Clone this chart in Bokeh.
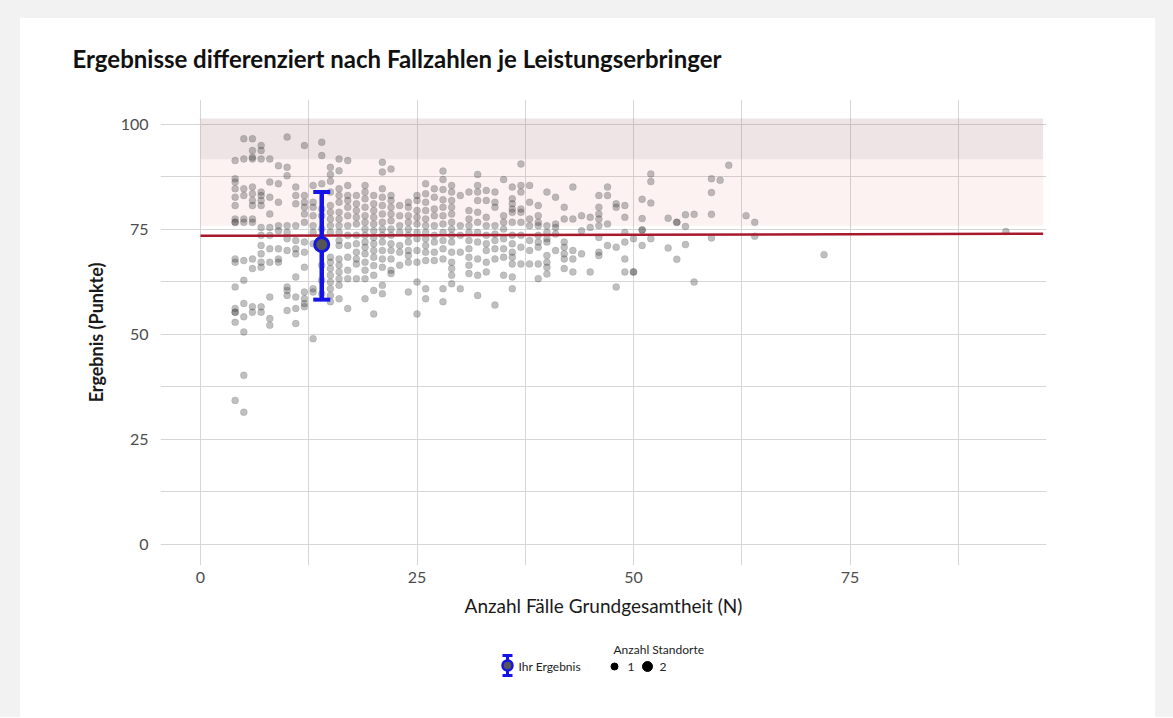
from bokeh.plotting import figure
from bokeh.models import Range1d, FixedTicker
from bokeh.layouts import column
from bokeh.core.properties import value
from bokeh.embed import file_html
from bokeh.resources import INLINE

# ---------------- data ----------------
title_text = "Ergebnisse differenziert nach Fallzahlen je Leistungserbringer"
x_label = "Anzahl Fälle Grundgesamtheit (N)"
y_label = "Ergebnis (Punkte)"
x_ticks = [0, 25, 50, 75]
x_minor = [12.5, 37.5, 62.5, 87.5]
y_ticks = [0, 25, 50, 75, 100]
y_minor = [12.5, 37.5, 62.5, 87.5]

y_n04 = [91.4, 87.1, 86.3, 84.7, 82.7, 80.7, 77.5, 76.7, 76.7, 68.0, 67.2, 61.3, 56.2, 55.3, 55.3, 52.9, 34.3]
y_n05 = [96.6, 91.8, 84.7, 83.1, 77.5, 76.7, 67.6, 62.9, 57.4, 54.2, 50.6, 40.3, 31.5]
y_n06 = [96.6, 93.8, 92.2, 91.8, 85.1, 83.5, 81.9, 80.7, 77.5, 76.7, 68.0, 65.7, 56.6, 55.3]
y_n07 = [95.0, 93.8, 91.8, 83.9, 83.1, 81.9, 80.7, 75.5, 73.6, 71.2, 69.2, 67.2, 66.0, 56.6, 55.3]
y_n08 = [91.8, 86.3, 82.7, 78.7, 75.5, 73.6, 70.4, 67.2, 58.9, 53.8, 52.2]
y_n09 = [90.2, 85.9, 81.5, 75.9, 74.7, 70.4, 68.0, 67.2]
y_n10 = [97.0, 89.8, 87.8, 75.9, 74.3, 72.8, 70.0, 61.3, 60.5, 59.3, 55.7]
y_n11 = [85.1, 83.1, 81.1, 75.9, 72.4, 70.4, 69.2, 63.7, 58.9, 56.2, 52.6]
y_n12 = [95.0, 83.1, 81.5, 80.3, 78.7, 76.7, 72.0, 69.6, 66.0, 60.1, 58.5, 57.4, 56.6]
y_n13 = [85.5, 81.5, 80.3, 78.3, 75.9, 74.3, 71.6, 60.9, 60.1, 49.0]
y_n14 = [95.8, 92.6, 85.9, 79.9, 78.3, 75.2, 73.1, 70.4, 66.5, 62.9, 59.7]
y_n15 = [89.8, 88.1, 86.5, 83.9, 80.7, 79.1, 77.5, 75.9, 74.3, 68.4, 67.2, 65.7, 64.1, 62.5, 60.9, 59.3, 57.8]
y_n16 = [91.8, 89.0, 84.7, 83.1, 81.5, 79.1, 77.5, 75.9, 74.3, 72.4, 71.2, 68.0, 66.5, 64.9, 63.3, 61.7, 58.5]
y_n17 = [91.4, 85.5, 83.1, 81.9, 80.3, 78.3, 75.9, 73.6, 71.2, 68.4, 65.3, 63.3, 56.2]
y_n18 = [83.1, 81.1, 79.5, 77.9, 76.3, 73.6, 71.6, 69.6, 68.0, 66.8, 63.3]
y_n19 = [85.5, 83.9, 82.3, 80.3, 78.3, 76.7, 75.1, 73.6, 72.0, 70.8, 69.2, 67.2, 65.3, 63.3, 58.5]
y_n20 = [83.1, 81.1, 79.5, 77.9, 76.3, 74.7, 73.1, 71.6, 70.0, 68.4, 66.4, 64.1, 60.5, 54.9]
y_n21 = [91.0, 88.7, 84.7, 82.7, 80.7, 78.7, 76.7, 75.1, 73.6, 72.0, 70.0, 68.0, 66.0, 61.7, 59.7]
y_n22 = [89.4, 83.1, 81.9, 80.3, 78.7, 77.1, 75.1, 73.6, 71.6, 70.0, 68.0, 65.3, 64.5]
y_n23 = [80.7, 78.3, 75.9, 74.3, 71.2, 69.6, 66.5]
y_n24 = [81.5, 80.3, 78.3, 76.7, 75.1, 73.6, 72.0, 70.0, 68.8, 67.2, 60.1]
y_n25 = [83.1, 81.9, 79.5, 77.9, 76.3, 74.3, 72.8, 70.0, 67.2, 62.5, 54.9]
y_n26 = [85.9, 83.5, 81.5, 79.5, 77.5, 75.9, 74.3, 72.8, 71.2, 69.6, 67.6, 60.9, 58.5]
y_n27 = [84.7, 82.7, 79.9, 78.3, 75.9, 73.6, 72.0, 69.6, 67.6]
y_n28 = [88.9, 86.9, 84.5, 82.1, 80.3, 78.3, 76.3, 74.3, 72.4, 70.4, 68.0, 60.9, 57.8]
y_n29 = [85.5, 83.9, 81.9, 80.3, 78.7, 76.7, 75.1, 73.6, 72.0, 69.6, 67.2, 65.7, 64.1, 62.1]
y_n30 = [83.1, 75.9, 73.6, 69.6, 60.9]
y_n31 = [83.9, 79.5, 77.5, 75.9, 74.3, 72.4, 70.4, 68.4, 66.5, 64.5]
y_n32 = [88.1, 85.5, 83.9, 81.9, 79.1, 76.7, 74.3, 72.0, 68.0, 64.1, 59.3]
y_n33 = [84.3, 81.9, 77.9, 75.9, 73.6, 71.6, 70.0, 67.2, 64.9]
y_n34 = [83.9, 81.5, 80.3, 75.9, 73.9, 72.4, 70.4, 68.0, 57.0]
y_n35 = [86.9, 78.3, 76.7, 75.1, 72.8, 70.4, 68.4, 64.1]
y_n36 = [85.1, 82.3, 81.1, 79.9, 79.1, 76.7, 73.6, 71.6, 69.6, 68.4, 66.8, 63.7, 60.9]
y_n37 = [90.6, 85.5, 83.9, 79.9, 79.1, 76.7, 73.6, 70.8, 66.8]
y_n38 = [85.5, 81.5, 77.5, 75.9, 72.4, 70.0, 66.8]
y_n39 = [80.7, 78.3, 76.7, 75.9, 73.6, 72.0, 70.8, 66.8, 63.3]
y_n40 = [83.9, 75.9, 74.3, 72.8, 72.0, 68.8, 67.2, 66.0, 64.4]
y_n41 = [82.7, 76.3, 75.5, 73.9, 70.0]
y_n42 = [80.3, 77.5, 72.0, 70.8, 69.2, 68.0, 65.7]
y_n43 = [85.1, 77.5, 70.0, 68.0, 64.9]
y_n44 = [78.3, 74.7, 69.2]
y_n45 = [77.9, 75.5, 64.9]
y_n46 = [83.1, 80.3, 78.7, 77.5, 75.9, 73.1, 69.6, 68.8]
y_n47 = [85.1, 83.1, 76.3, 71.2]
y_n48 = [81.1, 80.3, 70.8, 61.3]
y_n49 = [80.7, 77.9, 74.3, 72.0, 68.0, 64.9]
y_n50 = [72.8, 64.9, 64.9]
y_n51 = [82.2, 77.6, 74.9, 74.9, 71.2]
y_n52 = [88.2, 86.4, 81.3, 72.8]
y_n54 = [77.7, 70.6]
y_n55 = [76.7, 76.7, 67.9]
y_n56 = [78.5, 75.7, 71.4]
y_n57 = [78.6, 62.5]
y_n59 = [87.1, 83.8, 78.6, 73.0]
y_n60 = [86.7]
y_n61 = [90.3]
y_n63 = [78.3]
y_n64 = [76.7, 73.4]
y_n72 = [69.0]
y_n93 = [74.5]

columns = {
    4: y_n04, 5: y_n05, 6: y_n06, 7: y_n07, 8: y_n08, 9: y_n09, 10: y_n10,
    11: y_n11, 12: y_n12, 13: y_n13, 14: y_n14, 15: y_n15, 16: y_n16,
    17: y_n17, 18: y_n18, 19: y_n19, 20: y_n20, 21: y_n21, 22: y_n22,
    23: y_n23, 24: y_n24, 25: y_n25, 26: y_n26, 27: y_n27, 28: y_n28,
    29: y_n29, 30: y_n30, 31: y_n31, 32: y_n32, 33: y_n33, 34: y_n34,
    35: y_n35, 36: y_n36, 37: y_n37, 38: y_n38, 39: y_n39, 40: y_n40,
    41: y_n41, 42: y_n42, 43: y_n43, 44: y_n44, 45: y_n45, 46: y_n46,
    47: y_n47, 48: y_n48, 49: y_n49, 50: y_n50, 51: y_n51, 52: y_n52,
    54: y_n54, 55: y_n55, 56: y_n56, 57: y_n57, 59: y_n59, 60: y_n60,
    61: y_n61, 63: y_n63, 64: y_n64, 72: y_n72, 93: y_n93,
}

# reference bands and line
band_left = [0, 0]
band_right = [97.3, 97.3]
band_bottom = [75.9, 91.7]
band_top = [91.7, 101.4]
band_colors = ["#d45a5a", "#9e6b70"]
band_alphas = [0.08, 0.18]

ref_x = [0, 97.3]
ref_y = [73.5, 74.0]

# "Ihr Ergebnis"
ihr_n = [14]
ihr_value = [71.4]
ihr_lower = [58.3]
ihr_upper = [83.9]

legend_ihr = "Ihr Ergebnis"
legend_title = "Anzahl Standorte"
standorte_labels = ["1", "2"]

# ---------------- figure ----------------
FONT = "Lato"
BORDER_L, BORDER_R = 140, 109
pts_x = [n for n, ys in columns.items() for _ in ys]
pts_y = [v for ys in columns.values() for v in ys]

p = figure(width=1135, height=612,
           x_range=Range1d(-4.62, 97.69), y_range=Range1d(-5.0, 105.95),
           output_backend="svg", toolbar_location=None,
           min_border_left=BORDER_L, min_border_right=BORDER_R,
           min_border_top=81, min_border_bottom=65)
p.background_fill_color = "white"
p.border_fill_color = "white"
p.outline_line_color = None

p.quad(left=band_left, right=band_right, bottom=band_bottom, top=band_top,
       fill_color=band_colors, fill_alpha=band_alphas, line_color=None)

p.scatter(pts_x, pts_y, size=7, fill_color="#3c3c3c", fill_alpha=0.33,
          line_color="#3c3c3c", line_alpha=0.12)

p.line(ref_x, ref_y, line_color="#a8192e", line_width=2.5)

BLUE = "#1414e6"
p.segment(x0=ihr_n, y0=ihr_lower, x1=ihr_n, y1=ihr_upper, line_color=BLUE, line_width=4.5)
p.scatter(x=ihr_n * 2, y=ihr_lower + ihr_upper, marker="dash", size=17,
          line_color=BLUE, line_width=4)
p.scatter(x=ihr_n, y=ihr_value, size=14, fill_color="#555555",
          line_color=BLUE, line_width=3)

p.xaxis.ticker = FixedTicker(ticks=x_ticks, minor_ticks=x_minor)
p.yaxis.ticker = FixedTicker(ticks=y_ticks, minor_ticks=y_minor)
p.grid.grid_line_color = "#d6d6d6"
p.grid.minor_grid_line_color = "#d6d6d6"
p.grid.grid_line_width = 1

for ax in (p.xaxis, p.yaxis):
    ax.axis_line_color = None
    ax.major_tick_line_color = None
    ax.minor_tick_line_color = None
    ax.major_tick_out = 0
    ax.major_tick_in = 0
    ax.minor_tick_out = 0
    ax.minor_tick_in = 0
    ax.major_label_text_font = FONT
    ax.major_label_text_font_size = "16px"
    ax.major_label_text_color = "#4d4d4d"
    ax.axis_label_text_font = FONT
    ax.axis_label_text_color = "#1a1a1a"

p.xaxis.axis_label = x_label
p.xaxis.axis_label_text_font_size = "19px"
p.xaxis.axis_label_text_font_style = "normal"
p.xaxis.major_label_standoff = 6
p.xaxis.axis_label_standoff = 8

p.yaxis.axis_label = y_label
p.yaxis.axis_label_text_font_size = "18px"
p.yaxis.axis_label_text_font_style = "bold"
p.yaxis.major_label_standoff = 12
p.yaxis.axis_label_standoff = 11

p.title.text = title_text
p.title.text_font = FONT
p.title.text_font_size = "24px"
p.title.text_font_style = "bold"
p.title.text_color = "#111111"
p.title.align = "left"
p.title.vertical_align = "top"
p.title.offset = -88
p.title.standoff = 49

# ---------------- legend strip (x in pixels from the plot frame's left edge) ----------------
FRAME_W = 1135 - BORDER_L - BORDER_R
LEG_H = 87
leg = figure(width=1135, height=LEG_H, x_range=Range1d(0, FRAME_W), y_range=Range1d(0, LEG_H),
             output_backend="svg", toolbar_location=None,
             min_border_left=BORDER_L, min_border_right=BORDER_R,
             min_border_top=0, min_border_bottom=0,
             x_axis_location=None, y_axis_location=None)
leg.grid.visible = False
leg.outline_line_color = None
leg.background_fill_color = "white"
leg.border_fill_color = "white"

leg.segment(x0=[347], y0=[42], x1=[347], y1=[62], line_color=BLUE, line_width=3)
leg.scatter(x=[347, 347], y=[42, 62], marker="dash", size=10, line_color=BLUE, line_width=3)
leg.scatter(x=[347], y=[52], size=10, fill_color="#555555", line_color=BLUE, line_width=2.5)
leg.text(x=[358], y=[51], text=[legend_ihr], text_font=value(FONT),
         text_font_size="12px", text_baseline="middle", text_align="left", text_color="#222222")
leg.text(x=[453], y=[68], text=[legend_title], text_font=value(FONT),
         text_font_size="12px", text_baseline="middle", text_align="left", text_color="#222222")
leg.scatter(x=[454, 487], y=[51, 51], size=[7, 10], fill_color="black", line_color="black")
leg.text(x=[467, 499], y=[51, 51], text=standorte_labels, text_font=value(FONT),
         text_font_size="12px", text_baseline="middle", text_align="left", text_color="#222222")

layout = column(p, leg, spacing=0,
                styles={"background-color": "white",
                        "border-top": "18px solid #f2f2f2",
                        "border-left": "20px solid #f2f2f2",
                        "border-right": "18px solid #f2f2f2"})

open("out.html", "w").write(file_html(layout, INLINE))
